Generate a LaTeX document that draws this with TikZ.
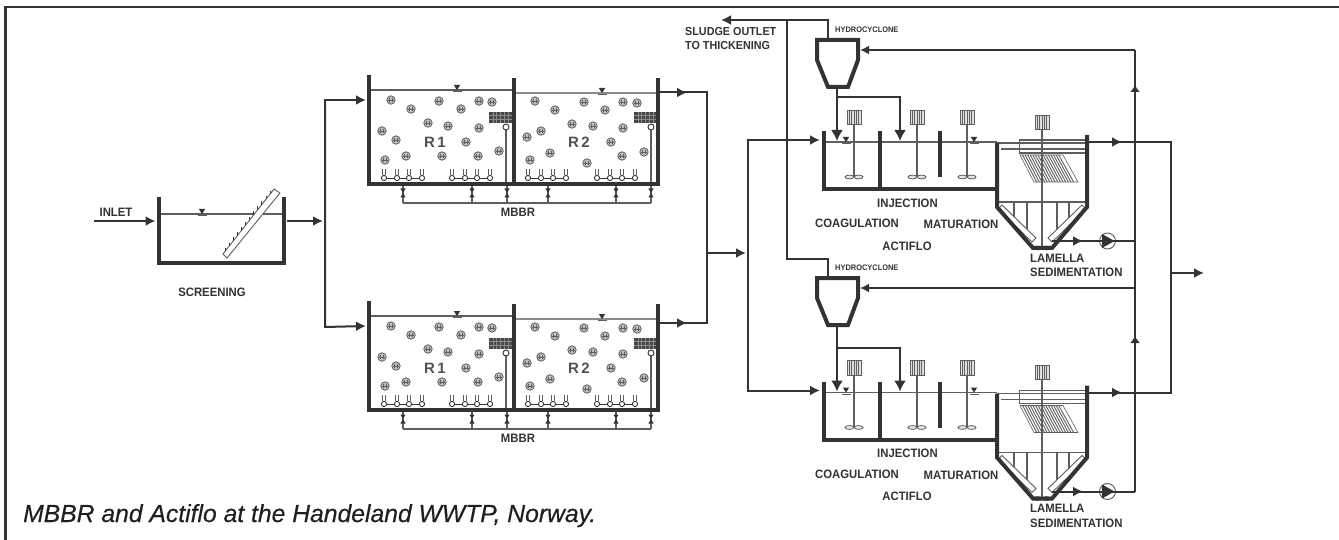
\documentclass[tikz,border=0pt]{standalone}
\usepackage{fontspec}
\setmainfont{Liberation Sans}
\newfontfamily\lblfont[FakeStretch=0.93]{Liberation Sans}
\newfontfamily\capfont[FakeBold=0.35]{Liberation Sans}
\usetikzlibrary{arrows.meta,calc}
\definecolor{ink}{HTML}{333333}
\definecolor{thin}{HTML}{5E5E5E}
\tikzset{
 wall/.style={draw=ink,line width=4pt,line cap=butt,line join=miter},
 flow/.style={draw=ink,line width=2pt,line join=miter},
 flowtip/.style={flow,-{Latex[length=10pt,width=10pt]}},
 droptip/.style={flow,-{Latex[length=11pt,width=12pt]}},
 uptip/.style={flow,-{Latex[length=7pt,width=10pt]}},
 fine/.style={draw=thin,line width=1.2pt},
 hair/.style={draw=thin,line width=0.6pt},
 lbl/.style={font=\lblfont\bfseries\fontsize{12.2}{14}\selectfont,text=ink,inner sep=0pt},
 lblleft/.style={lbl,anchor=west},
 sludgelbl/.style={lblleft,font=\lblfont\bfseries\fontsize{11.6}{14}\selectfont},
 tiny/.style={font=\lblfont\bfseries\fontsize{8}{9}\selectfont,text=ink,inner sep=0pt,anchor=west},
 rlab/.style={font=\bfseries\fontsize{15}{16}\selectfont,text=ink!85,inner sep=0pt},
 media/.style={draw=thin,line width=0.8pt,fill=black!25},
}
\newcommand{\lvlmark}[2]{%
 \fill[ink] (#1-3.2,#2-5) -- (#1+3.2,#2-5) -- (#1,#2) -- cycle;
 \draw[fine] (#1-4.5,#2+1.8) -- (#1+4.5,#2+1.8);}
\newcommand{\valvemark}[2]{%
 \fill[ink] (#1-2.6,#2-4.5) -- (#1+2.6,#2-4.5) -- (#1-2.6,#2+4.5) -- (#1+2.6,#2+4.5) -- cycle;}
\newcommand{\onemedia}[2]{%
 \draw[media] (#1,#2) circle (4.2);
 \draw[draw=thin,line width=0.5pt] (#1-1.3,#2-2.4) -- (#1-1.3,#2+2.4) (#1+1.3,#2-2.4) -- (#1+1.3,#2+2.4) (#1-2.6,#2) -- (#1+2.6,#2);}
\newcommand{\aerator}[2]{%
 \draw[hair] (#1-1.3,#2-9) -- (#1-1.3,#2-3) (#1+1.3,#2-9) -- (#1+1.3,#2-3);}
\newcommand{\gridbox}[4]{%
 \fill[ink!90] (#1,#2) rectangle (#3,#4);
 \foreach \q in {1,...,5} {\draw[draw=black!45,line width=0.4pt] ($(#1,#2)+(\q*3.8,0)$) -- ($(#1,#4)+(\q*3.8,0)$);}
 \draw[draw=black!45,line width=0.4pt] (#1,#2+3.5) -- (#3,#2+3.5) (#1,#2+7) -- (#3,#2+7);}
\newcommand{\motorbox}[3]{%
 \draw[draw=thin,line width=0.8pt,fill=black!12] (#1-7,#2) rectangle (#1+7,#3);
 \foreach \q in {-4.5,-2.3,0,2.3,4.5} {\draw[draw=thin,line width=0.7pt] (#1+\q,#2) -- (#1+\q,#3);}}
\newcommand{\mixer}[4]{% x, box top, box bottom, impeller y
 \draw[fine] (#1,#3) -- (#1,#4);
 \motorbox{#1}{#2}{#3}
 \draw[draw=thin,line width=0.8pt,fill=black!10] (#1-4.6,#4) ellipse (4.4 and 1.9);
 \draw[draw=thin,line width=0.8pt,fill=black!10] (#1+4.6,#4) ellipse (4.4 and 1.9);}
\newcommand{\mbbr}[2]{% prefix, shift
\begin{scope}[shift={(0,#2)}]
 \coordinate (#1in) at (366,100);
 \draw[fine] (369,90) -- (514,90);
 \draw[draw=black!45,line width=1.2pt] (514,93) -- (658,93);
 \lvlmark{457}{90}
 \lvlmark{602}{93}
 \foreach \a/\b in {391/100,411/109,439/101,461/109,479/101,492/102,428/123,448/126,479/128,382/131,396/140,466/142,499/151,406/156,442/156,478/156,385/160,
   535/101,555/110,584/102,605/110,623/102,637/103,572/124,593/126,623/128,527/137,541/131,611/142,644/152,550/153,622/156,587/163,530/160} {\onemedia{\a}{\b}}
 \gridbox{489}{112}{512}{123}
 \gridbox{634}{112}{657}{123}
 \foreach \a in {506,651} {\draw[fine] (\a,127) -- (\a,184); \draw[draw=ink,line width=0.9pt,fill=white] (\a,127) circle (3);}
 \foreach \a in {384,397,409,422,452,465,477,490,528,541,553,566,597,610,622,635} {\aerator{\a}{178}}
 \draw[draw=ink,line width=0.9pt] (386.6,178) -- (419.4,178) (454.6,178) -- (487.4,178) (530.6,178) -- (563.4,178) (599.6,178) -- (632.4,178);
 \foreach \a in {384,397,409,422,452,465,477,490,528,541,553,566,597,610,622,635} {\draw[draw=ink,line width=0.9pt,fill=white] (\a,178) circle (2.6);}
 \draw[fine] (403,203) -- (651,203);
 \foreach \a in {403,472,507,548,616,651} {\draw[fine] (\a,184) -- (\a,203); \valvemark{\a}{193}}
 \draw[wall] (369,75) -- (369,184) -- (660,184);
 \draw[wall] (514,78) -- (514,184);
 \draw[wall] (658,78) -- (658,184);
 \node[rlab] (#1ra) at (435,142) {R\hspace{2.5pt}1};
 \node[rlab] (#1rb) at (579,142) {R\hspace{2.5pt}2};
 \node[lbl] (#1lab) at (518,212) {MBBR};
\end{scope}}
\newcommand{\actiflo}[3]{% prefix, tank shift, cyclone shift
\begin{scope}[shift={(0,#2)}]
 \coordinate (#1in) at (820,140);
 \coordinate (#1drop) at (837,141);
 \coordinate (#1droptwo) at (900,141);
 \coordinate (#1branch) at (837,97);
 \coordinate (#1branchr) at (900,97);
 \coordinate (#1out) at (1089,142);
 \coordinate (#1outmid) at (1122,142);
 \coordinate (#1outend) at (1171,142);
 \coordinate (#1sl) at (1052,241);
 \coordinate (#1slmid) at (1083,241);
 \coordinate (#1slend) at (1135,241);
 \draw[fine] (824,142) -- (997,142);
 \lvlmark{846}{142}
 \lvlmark{974}{142}
 \mixer{854}{110}{124.5}{177}
 \mixer{917}{110}{124.5}{177}
 \mixer{967}{110}{124.5}{177}
 \draw[fine] (997,143) -- (1087,143);
 \draw[fine] (1001,149) -- (1087,149);
 \draw[fine] (1087,153) -- (1019.5,153) -- (1019.5,140) -- (1087,140);
 \draw[hair] (1020,155) -- (1063,155) -- (1078,182) -- (1034,182) -- cycle;
 \foreach \q in {0.06,0.12,...,0.95} {\draw[draw=thin,line width=0.9pt] ($(1020,155)!\q!(1063,155)$) -- ($(1034,182)!\q!(1078,182)$);}
 \draw[fine] (997,202) -- (1087,202);
 \draw[fine] (1014,202) -- (1014,224) (1027,202) -- (1027,236) (1057,202) -- (1057,236) (1069,202) -- (1069,224);
 \mixer{1042}{115}{129}{248}
 \draw[draw=thin,line width=0.9pt,fill=white] (1002,205) -- (1036,238) -- (1032,242) -- (998,209) -- cycle;
 \draw[draw=thin,line width=0.9pt,fill=white] (1082,205) -- (1048,238) -- (1052,242) -- (1086,209) -- cycle;
 \draw[wall] (824,131) -- (824,189) -- (997,189);
 \draw[wall] (880,131) -- (880,189);
 \draw[wall] (940,131) -- (940,177);
 \draw[wall] (997,143) -- (997,207) -- (1033,248) -- (1052,248) -- (1087,207) -- (1087,135);
 \node[draw=thin,line width=0.9pt,fill=white,circle,minimum size=16pt,inner sep=0pt] (#1pump) at (1107.5,241) {};
 \fill[ink] (1102,234) -- (1114.5,241) -- (1102,248) -- cycle;
 \node[lbl] (#1inj) at (907.5,203) {INJECTION};
 \node[lbl] (#1coa) at (857,223.5) {COAGULATION};
 \node[lbl] (#1mat) at (961,224.5) {MATURATION};
 \node[lbl] (#1act) at (907,246) {ACTIFLO};
 \node[lblleft] (#1lam) at (1030,258) {LAMELLA};
 \node[lblleft] (#1sed) at (1030,272.5) {SEDIMENTATION};
\end{scope}
\begin{scope}[shift={(0,#3)}]
 \draw[wall] (817,40) -- (858,40) -- (858,60) -- (848,87) -- (828,87) -- (817,60) -- cycle;
 \coordinate (#1top) at (828,40);
 \coordinate (#1bot) at (837,87);
 \coordinate (#1feed) at (860,50);
 \coordinate (#1feedr) at (1135,50);
 \node[tiny] (#1hc) at (835,30) {HYDROCYCLONE};
\end{scope}
\draw[flow,-{Latex[length=9pt,width=9pt]}] (#1feedr) -- (#1feed);
\draw[flow] (#1sl) -- (#1slend);
\draw[flowtip] (#1sl) -- (#1slmid);
\draw[droptip] (#1bot) -- (#1drop);
\draw[droptip] (#1branch) -- (#1branchr) -- (#1droptwo);
}
\begin{document}
\begin{tikzpicture}[x=1pt,y=-1pt]
\useasboundingbox (0,0) rectangle (1339,540);
\fill[white] (0,0) rectangle (1339,540);
\draw[draw=ink,line width=2.6pt] (5.5,540) -- (5.5,7) -- (1339,7);
% screening
\draw[fine] (159,214) -- (284,214);
\lvlmark{202}{214}
\draw[draw=thin,line width=0.9pt,fill=white] (223,254) -- (227,258) -- (280,193) -- (274,189) -- cycle;
\foreach \q in {0.04,0.12,...,0.98} {\draw[draw=ink,line width=0.6pt] ($(223,254)!\q!(274,189)$) -- ++(0,-3.5);}
\draw[wall] (159,197) -- (159,263) -- (284,263) -- (284,197);
\node[lbl] (inlet) at (116,212) {INLET};
\node[lbl] (screening) at (212,292) {SCREENING};
\coordinate (inA) at (94,221);
\coordinate (inB) at (155.5,221);
\coordinate (scrOut) at (287,221);
\coordinate (scrJ) at (323,221);
\coordinate (splitT) at (325,100);
\coordinate (splitB) at (325,327);
% MBBR
\mbbr{ma}{0}
\mbbr{mb}{226}
\draw[flowtip] (inA) -- (inB);
\draw[flowtip] (scrOut) -- (scrJ);
\draw[flowtip] (splitB) -- (splitT) -- (main);
\draw[flowtip] (splitT) -- (splitB) -- (mbin);
\coordinate (maout) at (660,92.5);
\coordinate (mbout) at (660,323);
\coordinate (jT) at (707,92.5);
\coordinate (jB) at (707,323);
\coordinate (jM) at (707,253);
\coordinate (feedT) at (748,140);
\coordinate (feedB) at (748,390.5);
\coordinate (feedM) at (746,253);
\draw[flow] (maout) -- (jT) -- (jB) -- (mbout);
\draw[flowtip] (maout) -- (687,92.5);
\draw[flowtip] (mbout) -- (687,323);
\draw[flowtip] (jM) -- (feedM);
% Actiflo
\actiflo{aa}{0}{0}
\actiflo{ab}{250.5}{238}
\draw[flowtip] (feedB) -- (feedT) -- (aain);
\draw[flowtip] (feedT) -- (feedB) -- (abin);
% sludge lines
\coordinate (hcTop) at (828,20);
\coordinate (sludgeTip) at (721,20);
\coordinate (sludgeV) at (787,20);
\coordinate (sludgeJ) at (787,259);
\coordinate (hcLow) at (828,259);
\draw[flowtip] (aatop) -- (hcTop) -- (sludgeTip);
\draw[flow] (sludgeV) -- (sludgeJ) -- (hcLow) -- (abtop);
\node[sludgelbl] (sludgeA) at (685,32) {SLUDGE OUTLET};
\node[sludgelbl] (sludgeB) at (685,46) {TO THICKENING};
% recirculation
\coordinate (recTop) at (1135,50);
\coordinate (recLow) at (1135,491.5);
\coordinate (recMidA) at (1135,85);
\coordinate (recMidB) at (1135,336);
\draw[flow] (recLow) -- (recTop);
\draw[uptip] (1135,100) -- (recMidA);
\draw[uptip] (1135,350) -- (recMidB);
% outlet
\coordinate (outM) at (1171,273);
\coordinate (outTip) at (1204,273);
\draw[flow] (aaout) -- (aaoutend) -- (aboutend) -- (about);
\draw[flowtip] (aaout) -- (aaoutmid);
\draw[flowtip] (about) -- (aboutmid);
\draw[flowtip] (outM) -- (outTip);
\node[anchor=base west,inner sep=0pt,font=\capfont\itshape\fontsize{24.7}{28}\selectfont,text=black!88] (caption) at (23,522) {MBBR and Actiflo at the Handeland WWTP, Norway.};
\end{tikzpicture}
\end{document}
